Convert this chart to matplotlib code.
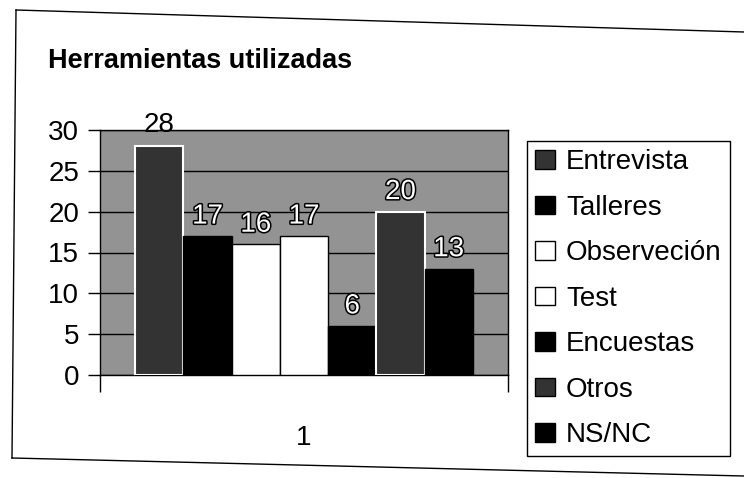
import matplotlib
matplotlib.use("Agg")
import matplotlib.pyplot as plt
from matplotlib import font_manager
from matplotlib.lines import Line2D
import matplotlib.patheffects as pe
import numpy as np

# ---- data ----
title = "Herramientas utilizadas"
category = ["1"]
series_names = ["Entrevista", "Talleres", "Observeción", "Test", "Encuestas", "Otros", "NS/NC"]
series_values = [28, 17, 16, 17, 6, 20, 13]
y_ticks = [0, 5, 10, 15, 20, 25, 30]

# ---- styles ----
face = ["#333333", "#000000", "#ffffff", "#ffffff", "#000000", "#333333", "#000000"]
edge = ["#ffffff", "#000000", "#000000", "#000000", "#000000", "#ffffff", "#000000"]

names = {f.name for f in font_manager.fontManager.ttflist}
base = "Liberation Sans" if "Liberation Sans" in names else "DejaVu Sans"
plt.rcParams["font.family"] = [base, "DejaVu Sans"]

fig = plt.figure(figsize=(7.44, 4.78), dpi=100)
W, H = 744, 478

def fx(px):
    return px / W

def fy(py):
    return 1 - py / H

# outer (slightly skewed, scanned) chart frame
frame_pts = [(16, 10), (744, 32)], [(16, 10), (12, 458)], [(12, 458), (744, 476)]
for (a, b) in frame_pts:
    fig.add_artist(Line2D([fx(a[0]), fx(b[0])], [fy(a[1]), fy(b[1])],
                          color="black", lw=1.0, transform=fig.transFigure))

# title
fig.text(fx(48), fy(68), title, fontsize=19.5, fontweight="bold",
         ha="left", va="baseline")

# axes
left, right, top, bottom = 100, 508, 130, 375
ax = fig.add_axes([fx(left), fy(bottom), (right - left) / W, (bottom - top) / H])
ax.set_facecolor("#939393")

n = len(series_values)
offsets = np.arange(n) - (n - 1) / 2
bar_w = 1.0
gap = 0.73
x0 = 0
bars = []
for i, (name, val) in enumerate(zip(series_names, series_values)):
    b = ax.bar(x0 + offsets[i], val, width=bar_w, color=face[i], edgecolor=edge[i],
               linewidth=1.5 if edge[i] == "#ffffff" else 1.0, label=name, zorder=3)
    bars.append(b)
    inside = val + 2.6 < 30
    if inside:
        ax.text(x0 + offsets[i], val + 2.4, str(val), ha="center", va="center",
                fontsize=20, color="white", zorder=5,
                path_effects=[pe.withStroke(linewidth=2.2, foreground="black")])
    else:
        ax.text(x0 + offsets[i], val + 2.6, str(val), ha="center", va="center",
                fontsize=20, color="black", zorder=5, clip_on=False)

ax.set_xlim(x0 - n / 2 - gap, x0 + n / 2 + gap)
ax.set_ylim(0, 30)
ax.set_yticks(y_ticks)
ax.set_yticklabels([str(t) for t in y_ticks], fontsize=20)
ax.tick_params(axis="y", length=9, width=1, pad=6, direction="out")
ax.yaxis.grid(True, color="black", linewidth=1.0, zorder=1)
ax.set_axisbelow(True)

ax.set_xticks([x0])
ax.set_xticklabels(category, fontsize=20)
ax.tick_params(axis="x", which="major", length=0, pad=36)
ax.set_xticks([x0 - n / 2 - gap, x0 + n / 2 + gap], minor=True)
ax.tick_params(axis="x", which="minor", length=12, width=1, direction="out")

for s in ax.spines.values():
    s.set_color("black")
    s.set_linewidth(1.0)

# legend
leg = fig.legend(handles=[b for b in bars], labels=series_names,
                 loc="upper left", bbox_to_anchor=(fx(527), fy(141)),
                 fontsize=20, frameon=True, fancybox=False, shadow=False,
                 handlelength=0.7, handleheight=0.65, handletextpad=0.4,
                 labelspacing=0.7, borderpad=0.3, borderaxespad=0,
                 edgecolor="black", framealpha=1)
leg.get_frame().set_linewidth(1.0)
for h in leg.legend_handles:
    h.set_edgecolor("black")
    h.set_linewidth(1.0)

fig.savefig("out.png", dpi=100)
